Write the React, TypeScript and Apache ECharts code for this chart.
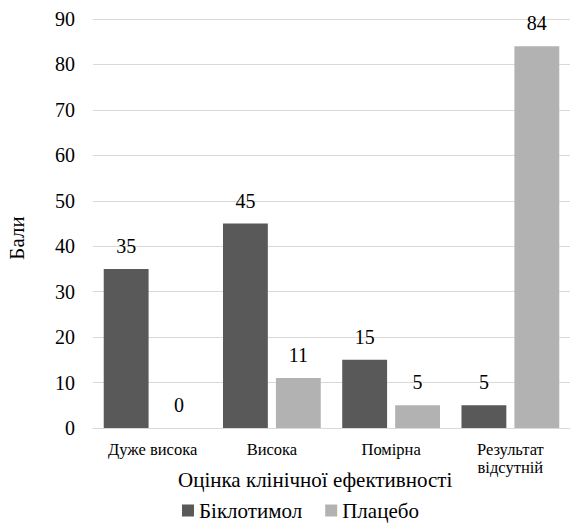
import React, { useEffect, useRef } from "react";
import * as echarts from "echarts";

const categories = ["Дуже висока", "Висока", "Помірна", "Результат\nвідсутній"];
const biklotymol = [35, 45, 15, 5];
const placebo = [0, 11, 5, 84];
const seriesNames = ["Біклотимол", "Плацебо"];
const yTicks = { min: 0, max: 90, interval: 10 };
const xAxisTitle = "Оцінка клінічної ефективності";
const yAxisTitle = "Бали";

const FONT = "Liberation Serif";

export default function App() {
  const ref = useRef<HTMLDivElement>(null);
  useEffect(() => {
    if (!ref.current) return;
    const chart = echarts.init(ref.current, undefined, { renderer: "svg" });
    const num = { fontFamily: FONT, fontSize: 20, color: "#000", fontWeight: "normal" };
    chart.setOption({
      animation: false,
      textStyle: { fontFamily: FONT },
      grid: { left: 93, right: 1, top: 19, bottom: 98 },
      legend: {
        data: seriesNames,
        left: 177,
        top: 498,
        padding: [2, 5],
        itemWidth: 12,
        itemHeight: 12,
        itemGap: 23,
        icon: "rect",
        textStyle: { fontFamily: FONT, fontSize: 21, color: "#000" },
      },
      graphic: [
        {
          type: "text",
          left: 178,
          top: 469,
          style: { text: xAxisTitle, font: `21px ${FONT}`, fill: "#000" },
        },
        {
          type: "text",
          x: 17,
          y: 238,
          rotation: Math.PI / 2,
          style: {
            text: yAxisTitle,
            font: `21px ${FONT}`,
            fill: "#000",
            textAlign: "center",
            textVerticalAlign: "middle",
          },
        },
      ],
      xAxis: {
        type: "category",
        data: categories,
        axisLine: { lineStyle: { color: "#d9d9d9" } },
        axisTick: { show: false },
        axisLabel: {
          fontFamily: FONT,
          fontSize: 16.5,
          color: "#000",
          margin: 12,
          lineHeight: 18,
          interval: 0,
        },
      },
      yAxis: {
        type: "value",
        min: yTicks.min,
        max: yTicks.max,
        interval: yTicks.interval,
        axisLine: { show: false },
        axisTick: { show: false },
        splitLine: { lineStyle: { color: "#d9d9d9" } },
        axisLabel: { ...num, margin: 18 },
      },
      series: [
        {
          name: seriesNames[0],
          type: "bar",
          data: biklotymol,
          itemStyle: { color: "#595959" },
          barGap: "18%",
          barCategoryGap: "18%",
          label: { show: true, position: "top", distance: 13, ...num },
        },
        {
          name: seriesNames[1],
          type: "bar",
          data: placebo,
          itemStyle: { color: "#b2b2b2" },
          label: { show: true, position: "top", distance: 13, ...num },
        },
      ],
    });
    return () => chart.dispose();
  }, []);
  return <div ref={ref} style={{ width: 571, height: 526, position: "absolute", left: 0, top: 0, background: "#fff" }} />;
}
